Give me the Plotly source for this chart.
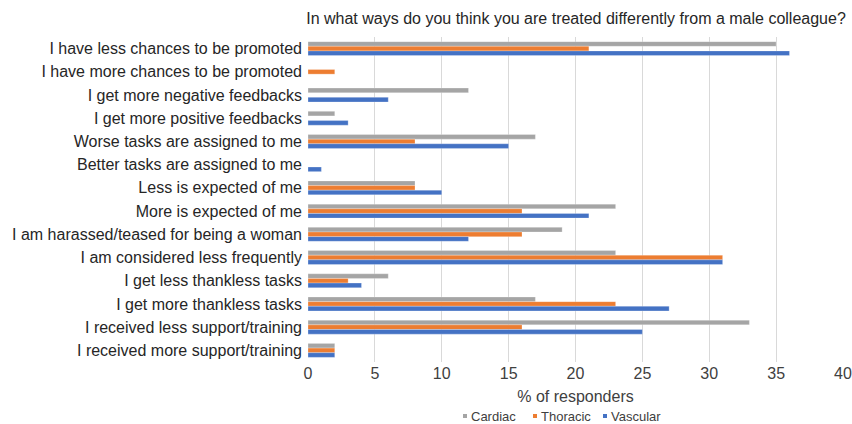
import plotly.graph_objects as go

categories = [
    "I have less chances to be promoted",
    "I have more chances to be promoted",
    "I get more negative feedbacks",
    "I get more positive feedbacks",
    "Worse tasks are assigned to me",
    "Better tasks are assigned to me",
    "Less is expected of me",
    "More is expected of me",
    "I am harassed/teased for being a woman",
    "I am considered less frequently",
    "I get less thankless tasks",
    "I get more thankless tasks",
    "I received less support/training",
    "I received more support/training",
]
cardiac = [35, 0, 12, 2, 17, 0, 8, 23, 19, 23, 6, 17, 33, 2]
thoracic = [21, 2, 0, 0, 8, 0, 8, 16, 16, 31, 3, 23, 16, 2]
vascular = [36, 0, 6, 3, 15, 1, 10, 21, 12, 31, 4, 27, 25, 2]

series = [("Cardiac", cardiac, "#A5A5A5"), ("Thoracic", thoracic, "#ED7D31"), ("Vascular", vascular, "#4472C4")]

W, H = 852, 424
L, R, T, B = 308, 9, 37, 62
pw, ph = W - L - R, H - T - B

fig = go.Figure()
for name, vals, col in series:
    fig.add_trace(go.Bar(
        y=categories, x=vals, name=name, orientation="h", showlegend=False,
        marker=dict(color=col, line=dict(color="rgba(255,255,255,0.5)", width=0.5)),
    ))

# legend drawn as small squares + text (positions in pixels -> paper coords)
legend_pos = [465, 535, 605]
ly = 416
shapes, annots = [], []
for (name, vals, col), lx in zip(series, legend_pos):
    x0 = (lx - 2 - L) / pw
    x1 = (lx + 2 - L) / pw
    y0 = (H - B - (ly + 2)) / ph
    y1 = (H - B - (ly - 2)) / ph
    shapes.append(dict(type="rect", xref="paper", yref="paper", x0=x0, x1=x1, y0=y0, y1=y1,
                       fillcolor=col, line=dict(width=0)))
    annots.append(dict(text=name, xref="paper", yref="paper", x=(lx + 4 - L) / pw,
                       y=(H - B - ly) / ph, xanchor="left", yanchor="middle", showarrow=False,
                       font=dict(size=13, color="#404040")))

fig.update_layout(
    width=W, height=H,
    margin=dict(l=L, r=R, t=T, b=B, autoexpand=False),
    paper_bgcolor="white", plot_bgcolor="white",
    font=dict(family="Liberation Sans, Arial, sans-serif", color="#262626", size=16),
    barmode="group", bargap=0.4, bargroupgap=0,
    title=dict(text="In what ways do you think you are treated differently from a male colleague?",
               x=576 / W, xanchor="center", y=1 - 18 / H, yanchor="middle",
               font=dict(size=16, color="#262626")),
    xaxis=dict(range=[0, 40], dtick=5, showgrid=True, gridcolor="#D9D9D9", gridwidth=1,
               zeroline=False, showline=False, ticks="", automargin=False,
               title=dict(text="% of responders", standoff=9, font=dict(size=16, color="#404040")),
               tickfont=dict(size=16, color="#404040")),
    yaxis=dict(autorange="reversed", showgrid=False, ticks="", showline=False, automargin=False,
               tickfont=dict(size=16, color="#262626"), ticklabelstandoff=5),
    shapes=shapes, annotations=annots,
    showlegend=False,
)

fig.write_html("out.html")
